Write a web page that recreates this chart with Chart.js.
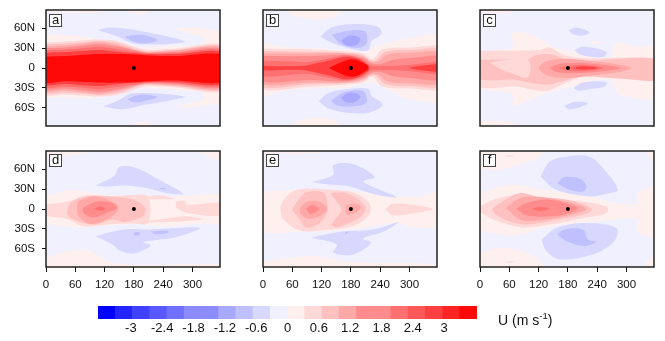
<!DOCTYPE html>
<html>
<head>
<meta charset="utf-8">
<script src="https://cdn.jsdelivr.net/npm/chart.js@4/dist/chart.umd.js"></script>
<style>
  html, body { margin: 0; padding: 0; background: #fff; }
  body { position: relative; width: 665px; height: 341px; overflow: hidden; font-family: "Liberation Sans", sans-serif; color: #111; }
  canvas { position: absolute; }
  .tag { position: absolute; min-width: 9px; padding: 0 1px; height: 11px; border: 1px solid #444; background: #fff; font-size: 13px; line-height: 10px; text-align: center; }
  #unit { position: absolute; left: 498px; top: 312px; font-size: 14px; white-space: nowrap; }
  #unit sup { font-size: 9.5px; line-height: 0; }
</style>
</head>
<body>
<script>
// longitude ticks and latitude ticks
const lonTicks = [0, 60, 120, 180, 240, 300];
const latTicks = [60, 30, 0, -30, -60];
const latLabels = ['60N', '30N', '0', '30S', '60S'];
const dotLon = 180;
const dotLat = 0;

// colour bar: lower bound of every class, and the labelled values
const barLevels = [-3.3, -3, -2.7, -2.4, -2.1, -1.8, -1.5, -1.2, -0.9, -0.6, -0.3, 0, 0.3, 0.6, 0.9, 1.2, 1.5, 1.8, 2.1, 2.4, 2.7, 3];
const barColors = ['#0000ff', '#2424ff', '#4040ff', '#5858ff', '#7070ff', '#8c8cff', '#8c8cff', '#a8a8ff', '#c0c0ff', '#d8d8ff', '#f0f0ff',
  '#fff0f0', '#ffd8d8', '#ffc0c0', '#ffa8a8', '#ff8c8c', '#ff8c8c', '#ff7070', '#ff5858', '#ff4040', '#ff2424', '#ff0808'];
const barTicks = [-3, -2.4, -1.8, -1.2, -0.6, 0, 0.6, 1.2, 1.8, 2.4, 3];

// contours: [class lower bound, [[lon, lat], ...]], painted in this order
const panelA = [
  [0, [[-10,52],[30,50],[77,47],[110,43],[150,38],[200,31],[250,33],[300,34],[370,35],[370,-35],[300,-35],[250,-33],[200,-31],[150,-38],[110,-45],[77,-46],[30,-44],[-10,-42],[-10,52]]],
  [0, [[262,60],[300,61],[356,56],[375,55],[375,30],[325,36],[325,46],[290,52],[262,60]]],
  [0, [[264,-57],[300,-52],[320,-47],[325,-36],[375,-30],[375,-52],[330,-56],[290,-60],[264,-57]]],
  [0, [[0,84],[60,83],[110,85],[110,95],[0,95],[0,84]]],
  [0, [[169,84],[190,81],[209,84],[209,95],[169,95],[169,84]]],
  [0, [[178,-84],[195,-81],[212,-84],[212,-95],[178,-95],[178,-84]]],
  [0.3, [[-10,38],[40,40],[80,42],[110,43],[150,40],[190,30],[210,27],[260,29],[370,32],[370,-32],[260,-29],[210,-27],[190,-30],[150,-40],[110,-43],[80,-42],[40,-40],[-10,-38],[-10,38]]],
  [0.6, [[-10,35],[40,37],[80,39],[110,41],[150,37],[190,27],[210,25],[260,27],[370,30],[370,-30],[260,-27],[210,-25],[190,-27],[150,-37],[110,-41],[80,-39],[40,-37],[-10,-35],[-10,35]]],
  [0.9, [[-10,32],[40,34],[80,37],[110,39],[150,34],[190,26],[210,24],[260,26],[370,28],[370,-28],[260,-26],[210,-24],[190,-26],[150,-34],[110,-39],[80,-37],[40,-34],[-10,-32],[-10,32]]],
  [1.2, [[-10,30],[40,31],[80,34],[110,36],[150,32],[190,25],[210,23],[260,24],[370,26],[370,-26],[260,-24],[210,-23],[190,-25],[150,-32],[110,-36],[80,-34],[40,-31],[-10,-30],[-10,30]]],
  [1.8, [[-10,27],[40,28],[80,30],[110,32],[150,28],[190,24],[210,22],[260,23],[370,24],[370,-24],[260,-23],[210,-22],[190,-24],[150,-28],[110,-32],[80,-30],[40,-28],[-10,-27],[-10,27]]],
  [2.4, [[-10,23],[40,24],[80,26],[110,27],[150,24],[190,22],[210,21],[260,21],[370,22],[370,-22],[260,-21],[210,-21],[190,-22],[150,-24],[110,-27],[80,-26],[40,-24],[-10,-23],[-10,23]]],
  [3, [[-10,17],[40,18],[80,20],[110,21],[150,21],[190,20],[210,19],[260,18],[370,18],[370,-19],[260,-19],[210,-20],[190,-21],[150,-22],[110,-22],[80,-21],[40,-20],[-10,-20],[-10,17]]],
  [-0.6, [[107,57],[131,61],[199,55],[284,40],[247,36],[206,36],[179,37],[145,48],[107,57]]],
  [-0.6, [[116,-58],[145,-50],[179,-38],[284,-43],[247,-50],[206,-55],[158,-62],[116,-58]]],
  [-0.9, [[160,47],[193,50],[228,42],[199,37],[179,40],[160,47]]],
  [-0.9, [[167,-47],[193,-40],[228,-44],[199,-50],[179,-52],[167,-47]]]
];

const panelB = [
  [0, [[-10,41],[42,32],[103,30],[171,27],[212,25],[239,35],[300,45],[370,47],[370,-46],[300,-47],[253,-32],[219,-22],[171,-30],[103,-31],[42,-35],[-10,-41],[-10,41]]],
  [0, [[42,90],[60,80],[100,73],[143,76],[160,90],[42,90]]],
  [0, [[48,-90],[70,-80],[103,-75],[143,-78],[160,-90],[48,-90]]],
  [0.3, [[-10,29],[100,28],[170,25],[205,22],[222,13],[228,15],[245,28],[300,31],[370,29],[370,-29],[300,-31],[245,-28],[228,-15],[222,-13],[205,-22],[170,-25],[100,-28],[-10,-29],[-10,29]]],
  [0.6, [[-10,26],[100,24],[170,23],[205,19],[222,11],[232,12],[250,24],[300,27],[370,25],[370,-25],[300,-27],[250,-24],[232,-12],[222,-11],[205,-19],[170,-23],[100,-24],[-10,-26],[-10,26]]],
  [0.9, [[-10,22],[100,22],[170,22],[205,17],[222,9],[235,10],[255,20],[300,23],[370,21],[370,-21],[300,-23],[255,-20],[235,-10],[222,-9],[205,-17],[170,-22],[100,-22],[-10,-22],[-10,22]]],
  [1.2, [[-10,18],[100,18],[165,20],[205,15],[222,7],[240,6],[265,12],[300,15],[370,16],[370,-16],[300,-15],[265,-12],[240,-6],[222,-7],[205,-15],[165,-20],[100,-18],[-10,-18],[-10,18]]],
  [1.8, [[-10,11],[60,10],[90,9],[130,14],[170,19],[200,14],[218,5],[240,3],[290,4],[370,8],[370,-8],[290,-4],[240,-3],[218,-5],[200,-14],[170,-19],[130,-14],[90,-9],[60,-10],[-10,-11],[-10,11]]],
  [2.4, [[-10,3],[80,3],[110,7],[140,12],[170,17],[198,13],[216,3],[217,-3],[198,-13],[170,-17],[140,-12],[110,-7],[80,-3],[-10,-3],[-10,3]]],
  [2.4, [[298,0],[320,3],[370,5],[370,-5],[320,-3],[298,0]]],
  [3, [[135,0],[155,7],[178,13],[198,10],[216,1],[198,-10],[178,-13],[155,-7],[135,0]]],
  [-0.6, [[118,47],[137,60],[178,66],[233,63],[243,52],[222,40],[216,27],[192,27],[144,37],[118,47]]],
  [-0.6, [[114,-50],[137,-37],[185,-31],[216,-32],[222,-42],[245,-55],[219,-67],[178,-68],[137,-62],[114,-50]]],
  [-0.9, [[141,50],[171,56],[209,55],[212,37],[192,30],[158,37],[141,50]]],
  [-0.9, [[139,-50],[165,-37],[205,-35],[212,-52],[185,-58],[154,-57],[139,-50]]],
  [-1.2, [[160,41],[178,49],[199,45],[192,35],[171,34],[160,41]]],
  [-1.2, [[159,-45],[178,-37],[199,-42],[192,-50],[171,-52],[159,-45]]]
];

const panelC = [
  [0, [[-10,25],[40,27],[66,30],[68,54],[116,47],[150,32],[177,27],[265,15],[279,38],[320,32],[370,31],[370,-42],[286,-40],[265,-18],[177,-30],[129,-40],[68,-57],[65,-40],[-10,-27],[-10,25]]],
  [0, [[0,84],[60,83],[70,95],[0,95],[0,84]]],
  [0, [[0,-81],[40,-80],[70,-84],[70,-95],[0,-95],[0,-81]]],
  [0, [[221,39],[235,41],[249,38],[235,36],[221,39]]],
  [0.3, [[-10,26],[60,26],[122,27],[143,31],[170,20],[211,15],[370,12],[370,-16],[286,-16],[211,-14],[177,-22],[136,-35],[109,-33],[75,-28],[-10,-26],[-10,26]]],
  [0.6, [[-10,12.5],[99,13.5],[117,20],[150,20],[177,12.5],[211,11],[370,12.5],[370,-16.5],[286,-16],[211,-12.5],[170,-20],[136,-25],[99,-22],[68,-17.5],[-10,-15],[-10,12.5]]],
  [0.3, [[19,9],[61,12.5],[99,12.5],[99,-13.5],[68,-8.5],[41,-1],[19,9]]],
  [0.9, [[119,0],[136,10],[177,14],[231,10],[286,5],[309,0],[286,-6],[231,-11],[177,-15],[136,-11],[119,0]]],
  [1.2, [[143,0],[156,5],[197,7.5],[252,5],[287,0],[252,-5],[197,-8],[156,-6],[143,0]]],
  [1.8, [[160,0],[184,3.5],[218,4.5],[253,0],[218,-4.5],[184,-4],[160,0]]],
  [2.4, [[190,0],[211,2.5],[241,0],[224,-2],[204,-2],[190,0]]],
  [-0.6, [[182,57],[197,61],[224,54],[211,49],[190,51],[182,57]]],
  [-0.6, [[194,27],[211,32],[258,25],[255,17],[224,17],[201,22],[194,27]]],
  [-0.6, [[192,-30],[211,-22],[258,-21],[255,-28],[224,-32],[201,-34],[192,-30]]],
  [-0.6, [[173,-57],[194,-51],[221,-53],[201,-60],[180,-62],[173,-57]]]
];

const panelD = [
  [0, [[-10,18],[56,29],[111,22],[179,21],[260,19],[370,19],[370,-21],[322,-22],[247,-26],[179,-23],[111,-26],[56,-28],[-10,-16],[-10,18]]],
  [0, [[0,95],[0,80],[60,82],[105,90],[105,95],[0,95]]],
  [0, [[300,95],[315,85],[370,72],[370,95],[300,95]]],
  [0, [[-10,-75],[77,-61],[138,-81],[220,-84],[370,-84],[370,-95],[-10,-95],[-10,-75]]],
  [0.3, [[-10,7],[43,11],[84,21],[131,19],[179,21],[209,19],[209,-21],[180,-22],[131,-23],[77,-26],[43,-15],[-10,-8],[-10,7]]],
  [0.3, [[205,19],[240,20],[262,15],[240,15],[205,15],[205,19]]],
  [0.3, [[205,-21],[322,-16],[288,-11],[233,-16],[205,-19],[205,-21]]],
  [0.3, [[267,11.5],[284,12.5],[288,6.5],[370,9],[370,-8.5],[301,-7.5],[267,1.5],[267,11.5]]],
  [0.6, [[43,-6],[50,9],[84,19],[131,19],[179,14],[203,1.5],[199,-11],[158,-19.5],[138,-16],[97,-23.5],[50,-13.5],[43,-6]]],
  [0.9, [[63,-1],[67,11.5],[101,19],[141,9],[148,-1],[124,-16],[90,-22.5],[67,-11],[63,-1]]],
  [1.2, [[75,1.5],[104,11.5],[135,9],[145,1.5],[124,-6],[97,-12.5],[77,-6],[75,1.5]]],
  [1.8, [[99,0],[111,4],[121,0.5],[111,-2.5],[99,0]]],
  [-0.6, [[101,35.5],[138,49],[152,64],[186,61.5],[226,46.5],[281,23],[247,24],[206,31.5],[165,35.5],[124,34],[101,35.5]]],
  [-0.6, [[101,-41],[158,-31],[213,-31],[315,-28.5],[260,-43.5],[223,-47],[199,-50],[215,-55],[179,-67],[152,-63],[135,-53],[101,-41]]],
  [-0.9, [[179,-36],[190,-35],[192,-39],[181,-40],[179,-36]]],
  [-0.9, [[213,-34],[250,-33],[250,-36],[225,-38],[213,-34]]],
  [-0.9, [[233,31.5],[245,32],[245,30],[233,30],[233,31.5]]]
];

const panelE = [
  [0, [[-10,26],[69,29],[137,29],[226,24],[273,19],[321,19],[370,26],[370,-22],[307,-28],[273,-21],[180,-31],[90,-34],[-10,-31],[-10,26]]],
  [0, [[-10,84],[100,84],[150,90],[150,95],[-10,95],[-10,84]]],
  [0, [[335,95],[345,86],[370,82],[370,95],[335,95]]],
  [0, [[-10,-80],[103,-71],[178,-79.5],[370,-84],[370,-95],[-10,-95],[-10,-80]]],
  [0.3, [[35,1.5],[42,14],[69,29],[137,29],[188,24],[219,6.5],[215,-11],[182,-26],[137,-31],[76,-32.5],[42,-16],[35,1.5]]],
  [0.3, [[250,0],[267,8],[321,5],[348,0],[321,-5],[267,-9.5],[250,0]]],
  [0.6, [[59,-1],[76,16.5],[90,25.5],[124,24],[132,0],[120,-18.5],[90,-28.5],[73,-13.5],[59,-1]]],
  [0.6, [[137,24],[171,24],[209,4],[202,-11],[151,-27.5],[141,-23.5],[161,-1],[151,11.5],[137,24]]],
  [0.9, [[76,1.5],[90,11.5],[117,10.5],[132,0],[117,-10],[90,-14.5],[76,-6],[76,1.5]]],
  [0.9, [[171,6.5],[192,7.5],[200,1.5],[188,-6],[171,-7.5],[171,6.5]]],
  [1.2, [[88,0.5],[100,6.5],[115,0],[98,-7.5],[88,0.5]]],
  [-0.6, [[100,40.5],[144,51.5],[144,66.5],[185,67.5],[229,48],[205,41.5],[273,18],[226,22.5],[178,34],[130,37.5],[100,40.5]]],
  [-0.6, [[98,-43.5],[158,-34.5],[226,-31],[276,-20],[246,-34.5],[205,-44.5],[222,-51],[185,-68.5],[144,-66],[151,-53.5],[98,-43.5]]],
  [-0.9, [[168,-35],[174,-35],[174,-37],[168,-37],[168,-35]]]
];

const panelF = [
  [0, [[-10,20],[41,34],[75,36.5],[129,29],[211,21.5],[279,9],[323,9],[323,26.5],[370,29],[370,-38.5],[323,-36],[320,-16],[279,-16],[211,-21],[129,-28.5],[75,-39.5],[41,-38.5],[-10,-25],[-10,20]]],
  [0, [[-10,64],[30,58],[75,66],[120,78],[135,95],[-10,95],[-10,64]]],
  [0, [[333,95],[356,70],[370,66],[370,95],[333,95]]],
  [0, [[-10,-68],[48,-58],[102,-68],[126,-81],[126,-95],[-10,-95],[-10,-68]]],
  [0, [[340,-80],[356,-70],[370,-68],[370,-95],[340,-95],[340,-80]]],
  [0.3, [[-10,0],[27,14],[75,21.5],[109,19],[211,11.5],[258,4],[262,-1],[255,-7.5],[211,-13.5],[143,-23.5],[82,-27.5],[27,-16],[-10,0]]],
  [0.3, [[48,80],[60,81],[71,80],[60,79],[48,80]]],
  [0.3, [[48,-80],[60,-79],[71,-80],[60,-81],[48,-80]]],
  [0.6, [[24,0],[41,9],[82,24],[116,19],[177,14],[228,1.5],[221,-6],[170,-14.5],[109,-22.5],[71,-21],[34,-9.5],[24,0]]],
  [0.9, [[53,1.5],[75,14],[102,19],[177,11.5],[218,0],[177,-10],[116,-17.5],[82,-16],[53,1.5]]],
  [1.2, [[75,0.5],[95,9],[143,14],[197,4],[200,0],[184,-6],[143,-11],[95,-9.5],[75,0.5]]],
  [1.8, [[107,0.5],[122,3],[141,0.5],[122,-3],[107,0.5]]],
  [-0.6, [[124,49],[143,71.5],[177,79],[224,79],[252,61.5],[282,29],[258,23],[224,19],[156,29],[124,49]]],
  [-0.6, [[126,-46],[156,-28.5],[211,-21],[279,-28.5],[275,-48.5],[231,-68.5],[163,-76],[136,-63.5],[126,-46]]],
  [-0.9, [[158,39],[173,48],[207,45],[218,34],[211,26.5],[184,29],[158,39]]],
  [-0.9, [[158,-38.5],[173,-31],[211,-31],[221,-46],[238,-49.5],[214,-56],[177,-48.5],[158,-38.5]]]
];

Chart.defaults.font.family = '"Liberation Sans", sans-serif';
Chart.defaults.font.size = 11.5;
Chart.defaults.color = '#111';

// pale background class and the frame around a panel
const panelFrame = {
  id: 'panelFrame',
  beforeDatasetsDraw(chart) {
    const { ctx, chartArea: a } = chart;
    ctx.save();
    ctx.fillStyle = '#f0f0ff';
    ctx.fillRect(a.left, a.top, a.width, a.height);
    ctx.restore();
  },
  afterDraw(chart) {
    const { ctx, chartArea: a } = chart;
    ctx.save();
    ctx.strokeStyle = '#222';
    ctx.lineWidth = 1.5;
    ctx.strokeRect(a.left, a.top, a.width, a.height);
    ctx.restore();
  },
};

function addCanvas(left, top, width, height) {
  const canvas = document.createElement('canvas');
  canvas.width = width;
  canvas.height = height;
  canvas.style.cssText = `left:${left}px;top:${top}px;width:${width}px;height:${height}px`;
  document.body.appendChild(canvas);
  return canvas;
}

function drawPanel(contours, name, col, row) {
  const left = [0, 217, 434][col];
  const top = [0, 141][row];
  const height = row === 1 ? 156 : 130;
  const canvas = addCanvas(left, top, 224, height);

  const datasets = contours.map((contour, i) => ({
    data: contour[1].map(p => ({ x: p[0], y: p[1] })),
    showLine: true,
    fill: 'shape',
    tension: 0.35,
    borderWidth: 0,
    pointRadius: 0,
    backgroundColor: barColors[barLevels.indexOf(contour[0])],
    order: contours.length - i + 1,
  }));
  datasets.push({
    data: [{ x: dotLon, y: dotLat }],
    pointRadius: 2,
    pointBackgroundColor: '#000',
    pointBorderWidth: 0,
    order: 0,
  });

  new Chart(canvas.getContext('2d'), {
    type: 'scatter',
    data: { datasets },
    plugins: [panelFrame],
    options: {
      responsive: false,
      animation: false,
      layout: { padding: { top: 10, right: 4, left: 0, bottom: 0 } },
      plugins: { legend: { display: false }, tooltip: { enabled: false } },
      scales: {
        x: {
          type: 'linear',
          min: 0,
          max: 356.3,
          afterBuildTicks: scale => { scale.ticks = lonTicks.map(value => ({ value })); },
          afterFit: scale => {
            scale.height = row === 1 ? 30 : 4;
            scale.paddingLeft = 0;
            scale.paddingRight = 0;
          },
          grid: { display: row === 1, drawOnChartArea: false, tickLength: 5, tickColor: '#111', lineWidth: 1 },
          border: { display: false },
          ticks: { display: row === 1, padding: 6, maxRotation: 0, autoSkip: false, includeBounds: false },
        },
        y: {
          type: 'linear',
          min: -87.5,
          max: 87.5,
          afterBuildTicks: scale => { scale.ticks = latTicks.map(value => ({ value })); },
          afterFit: scale => {
            scale.width = 46;
            scale.paddingTop = 0;
            scale.paddingBottom = 0;
          },
          grid: { display: col === 0, drawOnChartArea: false, tickLength: 4, tickColor: '#111', lineWidth: 1 },
          border: { display: false },
          ticks: {
            display: col === 0,
            padding: 7,
            autoSkip: false,
            callback: value => latLabels[latTicks.indexOf(value)],
          },
        },
      },
    },
  });

  const tag = document.createElement('div');
  tag.className = 'tag';
  tag.textContent = name;
  tag.style.left = left + 49 + 'px';
  tag.style.top = top + (row === 1 ? 13 : 14) + 'px';
  document.body.appendChild(tag);
}

drawPanel(panelA, 'a', 0, 0);
drawPanel(panelB, 'b', 1, 0);
drawPanel(panelC, 'c', 2, 0);
drawPanel(panelD, 'd', 0, 1);
drawPanel(panelE, 'e', 1, 1);
drawPanel(panelF, 'f', 2, 1);

// colour bar
new Chart(addCanvas(0, 295, 665, 46).getContext('2d'), {
  type: 'bar',
  data: {
    labels: barLevels,
    datasets: [{
      data: barLevels.map(() => 1),
      backgroundColor: barColors,
      borderWidth: 0,
      barPercentage: 1,
      categoryPercentage: 1,
    }],
  },
  options: {
    responsive: false,
    animation: false,
    layout: { padding: { left: 98, right: 188, top: 11, bottom: 0 } },
    plugins: { legend: { display: false }, tooltip: { enabled: false } },
    scales: {
      x: { display: false },
      y: { display: false, min: 0, max: 1 },
      x2: {
        type: 'linear',
        axis: 'x',
        position: 'bottom',
        min: -3.3,
        max: 3.3,
        afterBuildTicks: scale => { scale.ticks = barTicks.map(value => ({ value })); },
        afterFit: scale => {
          scale.height = 22;
          scale.paddingLeft = 0;
          scale.paddingRight = 0;
        },
        grid: { display: false, drawTicks: false, tickLength: 0 },
        border: { display: false },
        ticks: { font: { size: 13 }, padding: 2, autoSkip: false, maxRotation: 0, callback: value => String(value) },
      },
    },
  },
});

const unit = document.createElement('div');
unit.id = 'unit';
unit.innerHTML = 'U (m s<sup>-1</sup>)';
document.body.appendChild(unit);
</script>
</body>
</html>
